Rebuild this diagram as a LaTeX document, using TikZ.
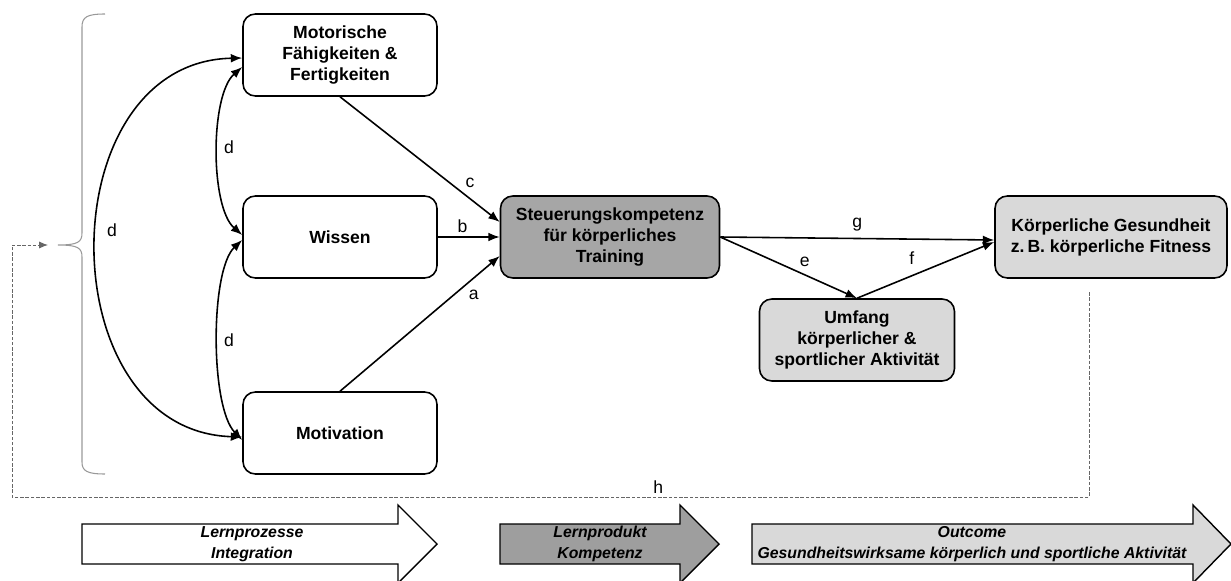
\documentclass[tikz,border=0pt]{standalone}
\usepackage{fontspec}
\setmainfont{Liberation Sans}
\usetikzlibrary{arrows.meta, positioning, calc}

\begin{document}
\begin{tikzpicture}[
  x=0.02cm, y=-0.02cm,
  box/.style   = {rectangle, rounded corners=7pt, draw=black, line width=0.9pt,
                  minimum height=1.64cm, align=center,
                  font=\fontsize{10}{12}\selectfont\bfseries, inner sep=2pt},
  lbl/.style   = {font=\fontsize{10}{12}\selectfont, inner sep=2pt},
  arr/.style   = {-{Latex[length=6.5pt, width=5pt]}, line width=0.9pt},
  darr/.style  = {{Latex[length=6.5pt, width=5pt]}-{Latex[length=6.5pt, width=5pt]}, line width=0.9pt},
  hline/.style = {-{Latex[length=5pt, width=4pt]}, gray!80!black, line width=0.5pt,
                  dash pattern=on 2pt off 1pt},
  blockarr/.style = {draw=black, line width=0.8pt, line join=miter},
  bartext/.style  = {align=center, font=\fontsize{9}{12}\selectfont\bfseries\itshape},
]
\useasboundingbox (0,0) rectangle (1231,581);

%% -- Nodes ---------------------------------------------------------------
\node[box, minimum width=3.88cm] (motor)  at (340,55)  {Motorische\\F\"ahigkeiten \&\\Fertigkeiten};
\node[box, minimum width=3.88cm] (wissen) at (340,237) {Wissen};
\node[box, minimum width=3.88cm] (motiv)  at (340,433) {Motivation};
\node[box, fill=black!35, minimum width=4.38cm] (steuer) at (610,237)
     {Steuerungskompetenz\\f\"ur k\"orperliches\\Training};
\node[box, fill=black!15, minimum width=3.9cm]  (umfang) at (857,340)
     {Umfang\\k\"orperlicher \&\\sportlicher Aktivit\"at};
\node[box, fill=black!15, minimum width=4.64cm] (gesund) at (1111,237)
     {K\"orperliche Gesundheit\\z.\,B. k\"orperliche Fitness};

%% -- Brace -----------------------------------------------------------------
\draw[gray!80, line width=0.6pt]
  (105,14) .. controls (87,14) and (82,17) .. (82,27) -- (82,233)
  .. controls (82,242) and (78,245) .. (58,245)
  .. controls (78,245) and (82,248) .. (82,257) -- (82,462)
  .. controls (82,471) and (87,474) .. (105,474);
\coordinate (bracetip) at (48,245);

%% -- Main flow arrows ------------------------------------------------------
\draw[arr] (motor.south) -- node[lbl, pos=0.76, above right]{c} ($(steuer.west)+(0,-15)$);
\draw[arr] (wissen.east) -- node[lbl, pos=0.4, above]{b} (steuer.west);
\draw[arr] (motiv.north) -- node[lbl, pos=0.78, below right]{a} ($(steuer.west)+(0,19)$);
\draw[arr] (steuer.east) -- node[lbl, pos=0.5, above=2pt]{g} ($(gesund.west)+(0,3)$);
\draw[arr] (steuer.east) -- node[lbl, pos=0.55, above right=0pt and 0pt]{e} (umfang.north);
\draw[arr] (umfang.north) -- node[lbl, pos=0.4, above=4pt]{f} ($(gesund.west)+(0,5)$);

%% -- d: curved double arrows -------------------------------------------------
\draw[darr] ($(motor.west)+(0,3)$) .. controls (48,62) and (48,431) .. ($(motiv.west)+(0,4)$);
\node[lbl] (dbig) at (112,230) {d};
\draw[darr] ($(motor.west)+(0,12)$) .. controls (210,95) and (210,207) .. ($(wissen.west)+(0,-2)$);
\node[lbl] (dtop) at (229,147) {d};
\draw[darr] ($(wissen.west)+(0,3)$) .. controls (210,270) and (210,407) .. ($(motiv.west)+(0,7)$);
\node[lbl] (dbot) at (229,340) {d};

%% -- h: dashed feedback -----------------------------------------------------
\coordinate (hstart)  at (1089,292);
\coordinate (hcorner) at (12,497);
\draw[hline] (hstart) |- node[lbl, pos=0.7, above, text=black]{h} (hcorner) |- (bracetip);

%% -- Phase arrows ------------------------------------------------------------
\draw[blockarr, fill=white]
  (82,524) -- (398,524) -- (398,505) -- (437,544) -- (398,583) -- (398,564) -- (82,564) -- cycle;
\node[bartext] (lernproz) at (252,544) {Lernprozesse\\Integration};
\draw[blockarr, fill=black!38]
  (500,524) -- (680,524) -- (680,505) -- (719,544) -- (680,583) -- (680,564) -- (500,564) -- cycle;
\node[bartext] (lernprod) at (600,544) {Lernprodukt\\Kompetenz};
\draw[blockarr, fill=black!15]
  (752,524) -- (1193,524) -- (1193,505) -- (1231,544) -- (1193,583) -- (1193,564) -- (752,564) -- cycle;
\node[bartext] (outcome) at (972,544) {Outcome\\Gesundheitswirksame k\"orperlich und sportliche Aktivit\"at};

\end{tikzpicture}
\end{document}
